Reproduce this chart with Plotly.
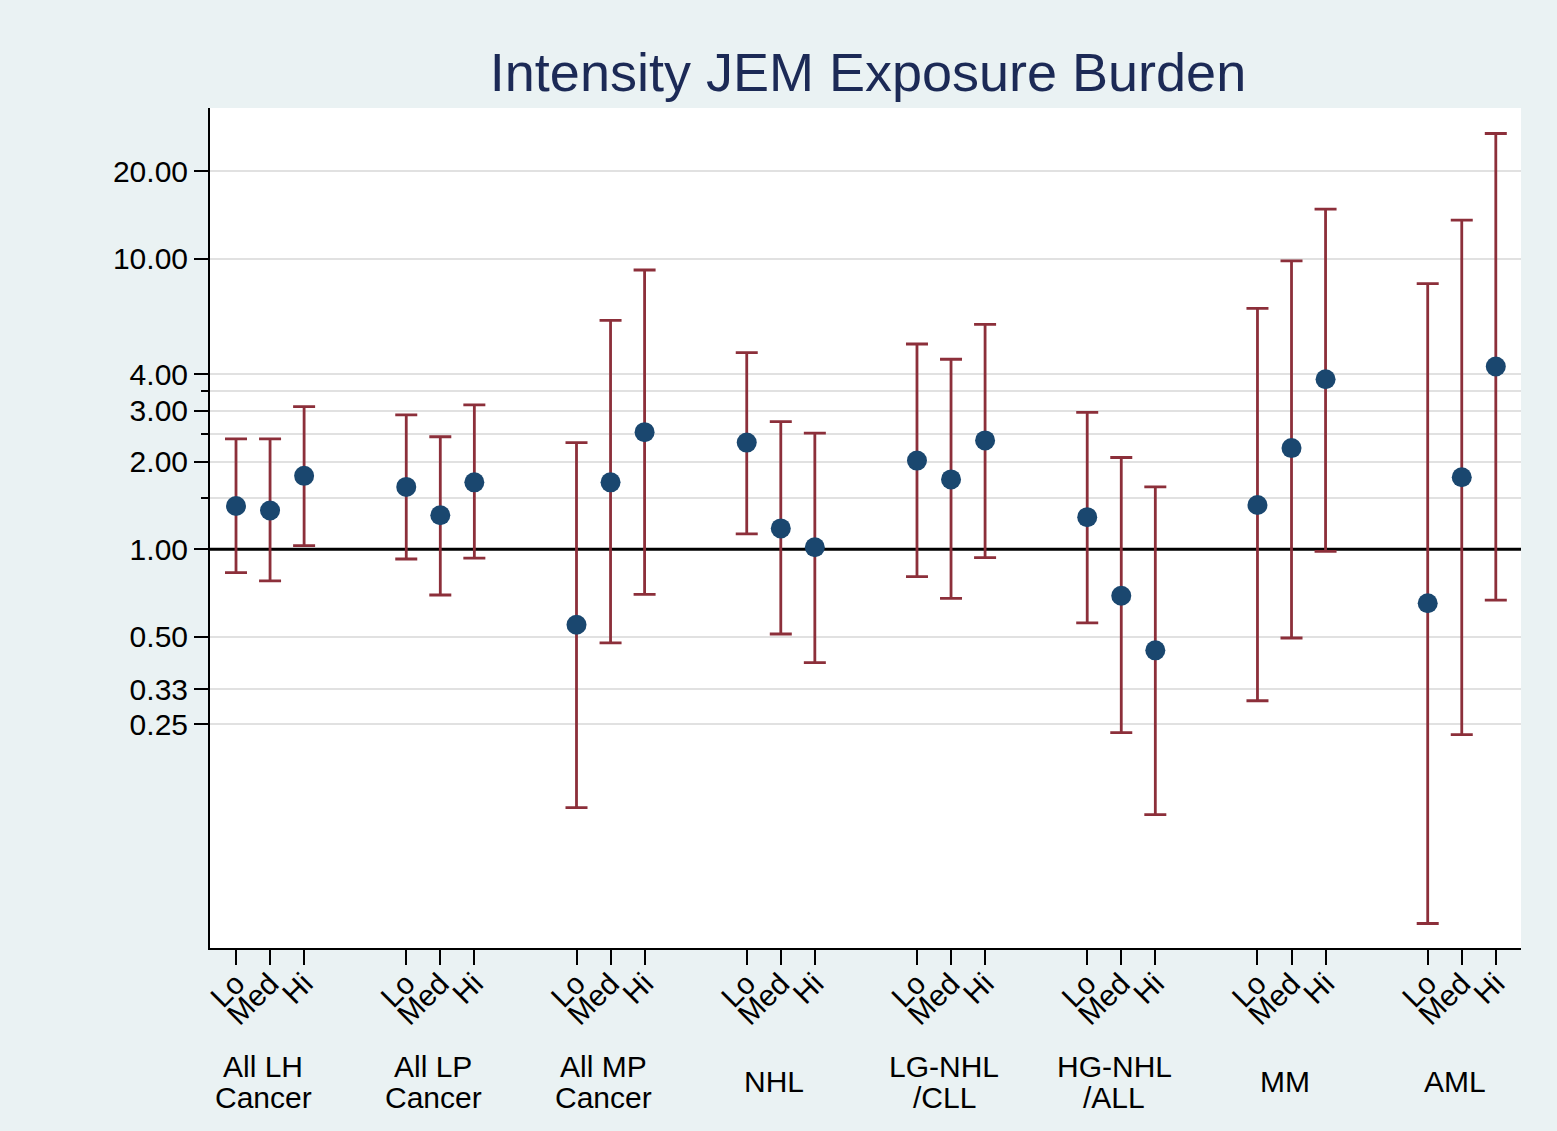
import plotly.graph_objects as go

# ---- data ----
groups_line1 = ["All LH", "All LP", "All MP", "NHL", "LG-NHL", "HG-NHL", "MM", "AML"]
groups_line2 = ["Cancer", "Cancer", "Cancer", "", "/CLL", "/ALL", "", ""]
levels = ["Lo", "Med", "Hi"]

# point estimates (rows = groups, columns = Lo/Med/Hi)
estimate = [
    [1.41, 1.36, 1.79],
    [1.64, 1.31, 1.70],
    [0.550, 1.70, 2.53],
    [2.33, 1.18, 1.016],
    [2.02, 1.74, 2.37],
    [1.29, 0.692, 0.449],
    [1.42, 2.23, 3.85],
    [0.652, 1.77, 4.26],
]
lower = [
    [0.831, 0.778, 1.03],
    [0.926, 0.696, 0.933],
    [0.129, 0.476, 0.699],
    [1.13, 0.511, 0.407],
    [0.805, 0.678, 0.936],
    [0.558, 0.234, 0.122],
    [0.301, 0.495, 0.984],
    [0.0515, 0.230, 0.668],
]
upper = [
    [2.40, 2.40, 3.10],
    [2.90, 2.44, 3.14],
    [2.33, 6.14, 9.15],
    [4.75, 2.75, 2.51],
    [5.09, 4.51, 5.95],
    [2.96, 2.07, 1.64],
    [6.75, 9.83, 14.83],
    [8.21, 13.58, 27.0],
]
reference_value = 1.0
ytick_vals = [0.25, 0.33, 0.5, 1, 2, 3, 4, 10, 20]
ytick_minor = [1.5, 2.5, 3.5]

# ---- build ----
GAP = 5  # slot units per group (3 levels + spacing)
XRANGE = [-0.764, 37.74]
xs, ys, eplus, eminus, ticktext = [], [], [], [], []
for g in range(len(groups_line1)):
    for j, lev in enumerate(levels):
        xs.append(g * GAP + j)
        ys.append(estimate[g][j])
        eplus.append(upper[g][j] - estimate[g][j])
        eminus.append(estimate[g][j] - lower[g][j])
        ticktext.append(lev)

FONT = "Liberation Sans, Arial, sans-serif"
BAR = "#8c2f3a"
NAVY = "#1a476f"
BG = "#eaf2f3"

fig = go.Figure()
# reference line at 1 (drawn above gridlines, below markers)
fig.add_trace(go.Scatter(
    x=XRANGE, y=[reference_value, reference_value], mode="lines",
    line=dict(color="black", width=3), showlegend=False, hoverinfo="skip",
))
fig.add_trace(go.Scatter(
    x=xs, y=ys, mode="markers",
    marker=dict(size=20, color=NAVY),
    error_y=dict(type="data", symmetric=False, array=eplus, arrayminus=eminus,
                 color=BAR, thickness=2.8, width=11),
    showlegend=False, hoverinfo="skip",
))

for g in range(len(groups_line1)):
    xc = g * GAP + 0.8
    if groups_line2[g]:
        fig.add_annotation(x=xc, xref="x", y=-0.1405, yref="paper", text=groups_line1[g],
                           showarrow=False, yanchor="middle",
                           font=dict(size=30, color="black", family=FONT))
        fig.add_annotation(x=xc, xref="x", y=-0.1774, yref="paper", text=groups_line2[g],
                           showarrow=False, yanchor="middle",
                           font=dict(size=30, color="black", family=FONT))
    else:
        fig.add_annotation(x=xc, xref="x", y=-0.1595, yref="paper", text=groups_line1[g],
                           showarrow=False, yanchor="middle",
                           font=dict(size=30, color="black", family=FONT))

fig.update_layout(
    width=1557, height=1131,
    paper_bgcolor=BG, plot_bgcolor="white",
    margin=dict(l=210, r=36, t=108, b=183),
    font=dict(family=FONT, color="black"),
    title=dict(text="Intensity JEM Exposure Burden", x=868 / 1557,
               xanchor="center", y=1 - 72 / 1131, yanchor="middle", yref="container",
               font=dict(size=54, color="#1c2a56", family=FONT)),
    xaxis=dict(range=XRANGE, tickvals=xs, ticktext=ticktext, tickangle=-45,
               ticks="outside", ticklen=15, tickwidth=1.5, tickcolor="black",
               tickfont=dict(size=30, color="black"), ticklabelstandoff=-11,
               showgrid=False, zeroline=False, showline=True, linecolor="black", linewidth=2),
    yaxis=dict(type="log", range=[-1.3725, 1.5191], tickvals=ytick_vals,
               ticktext=[f"{v:.2f}" for v in ytick_vals],
               ticks="outside", ticklen=14, tickwidth=1.5, tickcolor="black",
               tickfont=dict(size=30, color="black"),
               showgrid=True, gridcolor="#e1e1e1", gridwidth=1.5,
               zeroline=False, showline=True, linecolor="black", linewidth=2,
               minor=dict(tickvals=ytick_minor, ticks="outside", ticklen=7, tickwidth=1.5,
                          tickcolor="black", showgrid=True, gridcolor="#e1e1e1", gridwidth=1.5)),
)

fig.write_html("out.html", config={"displayModeBar": False},
               post_script=f"document.body.style.margin='0';document.body.style.background='{BG}';")
